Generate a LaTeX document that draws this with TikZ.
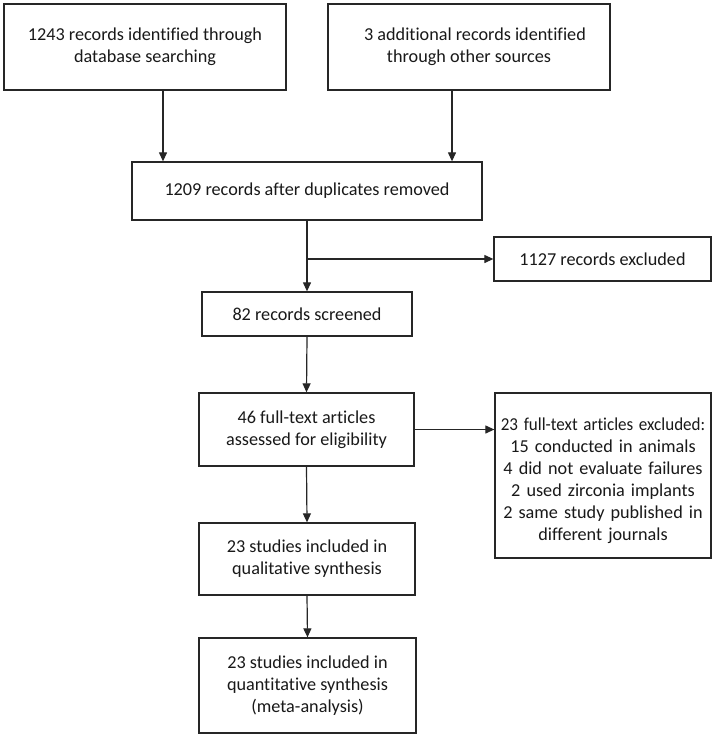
\documentclass[tikz,border=0pt]{standalone}
\usepackage{graphicx}
\usepackage{fontspec}
\setmainfont{Carlito}[Ligatures=NoCommon]
\usetikzlibrary{arrows.meta}
\begin{document}
\begin{tikzpicture}[x=1pt,y=-1pt,
  box/.style={draw=black!85, line width=1.3pt, align=center, inner sep=2pt,
    font=\fontsize{18.2}{22}\selectfont, text=black!90},
  arr/.style={draw=black!85, line width=1.2pt, -{Triangle[length=9pt,width=8pt]}}]
\useasboundingbox (0,0) rectangle (715,736);
\fill[white] (0,0) rectangle (715,736);
\node[box, minimum width=282pt, minimum height=86pt] (b1) at (145,47)
  {1243 records identified through\\database searching};
\node[box, minimum width=282pt, minimum height=86pt] (b2) at (469,47)
  {\hspace*{12pt}3 additional records identified\\through other sources};
\node[box, minimum width=350pt, minimum height=58pt] (b3) at (307,191)
  {1209 records after duplicates removed};
\node[box, minimum width=217pt, minimum height=44pt] (b4) at (602.5,259)
  {1127 records excluded};
\node[box, minimum width=210pt, minimum height=44pt] (b5) at (307,314)
  {82 records screened};
\node[box, minimum width=215pt, minimum height=73pt] (b6) at (306.5,429.5)
  {46 full-text articles\\assessed for eligibility};
\node[box, minimum width=216pt, minimum height=165pt, text width=210pt] (b7) at (603,475.5)
  {\rule{0pt}{24pt}\scalebox{0.935}[1]{23 full-text articles excluded:}\\15 conducted in animals\\4 did not evaluate failures\\2 used zirconia implants\\2 same study published in\\different journals};
\node[box, minimum width=216pt, minimum height=72pt] (b8) at (307,559)
  {23 studies included in\\qualitative synthesis};
\node[box, minimum width=217pt, minimum height=95pt] (b9) at (307.5,685.5)
  {23 studies included in\\quantitative synthesis\\(meta-analysis)};
\draw[arr] ([xshift=18pt]b1.south) -- ([xshift=18pt]b1.south |- b3.north);
\draw[arr] ([xshift=-17pt]b2.south) -- ([xshift=-17pt]b2.south |- b3.north);
\draw[arr] (b3.south) -- (b5.north);
\coordinate (j) at (b3.south |- b4.west);
\draw[arr] (j) -- (b4.west);
\draw[arr] (b5.south) -- (b6.north);
\draw[arr] (b6.east) -- (b6.east -| b7.west);
\draw[arr] (b6.south) -- (b8.north);
\draw[arr] (b8.south) -- (b9.north);
\end{tikzpicture}
\end{document}
